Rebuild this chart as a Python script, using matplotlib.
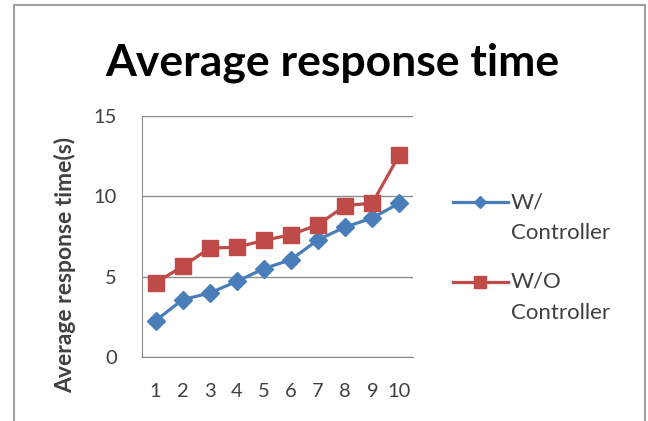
import matplotlib

matplotlib.use("Agg")
import matplotlib.pyplot as plt
from matplotlib.lines import Line2D
from matplotlib.patches import Rectangle

plt.rcParams["font.family"] = ["Lato", "DejaVu Sans"]

runs = list(range(1, 11))
with_ctrl = [2.26, 3.57, 3.98, 4.71, 5.50, 6.06, 7.30, 8.09, 8.65, 9.58]
without_ctrl = [4.61, 5.64, 6.78, 6.83, 7.26, 7.61, 8.24, 9.42, 9.58, 12.59]
yticks = [0, 5, 10, 15]

C_BLUE, C_RED, C_GRID, C_TXT = "#4A7EBB", "#BE4B48", "#8C8C8C", "#404040"
W, H = 648, 421

fig = plt.figure(figsize=(6.48, 4.21), dpi=100)
fig.patch.set_facecolor("white")
# outer chart frame (runs off the bottom of the image)
fig.add_artist(Rectangle((14 / W, -0.05), (645 - 14) / W, 1.05 - 5 / H,
                         transform=fig.transFigure, fill=False,
                         edgecolor="#A0A0A0", lw=1.5))

ax = fig.add_axes([142 / W, 1 - 357 / H, 271 / W, 241 / H])
ax.plot(runs, with_ctrl, "-D", color=C_BLUE, lw=2.3, ms=9, zorder=3)
ax.plot(runs, without_ctrl, "-s", color=C_RED, lw=2.3, ms=11, zorder=3)

ax.set_xlim(0.5, 10.5)
ax.set_ylim(0, 15)
ax.set_xticks(runs)
ax.set_yticks(yticks)
ax.grid(axis="y", color=C_GRID, lw=1)
ax.set_axisbelow(True)
for s in ("top", "right"):
    ax.spines[s].set_visible(False)
for s in ("left", "bottom"):
    ax.spines[s].set_color(C_GRID)
ax.tick_params(length=0, labelsize=14.5, labelcolor=C_TXT)
ax.tick_params(axis="y", pad=18)
ax.tick_params(axis="x", pad=19)

fig.text(332 / W, 1 - 63 / H, "Average response time", ha="center",
         va="center", fontsize=32, fontweight="bold", color="black")
fig.text(65 / W, 1 - 265 / H, "Average response time(s)", rotation=90,
         ha="center", va="center", fontsize=16.5, fontweight="bold",
         color=C_TXT)

# legend drawn like the spreadsheet one: handle beside the first text line
for y, color, marker, ms, lab in ((202, C_BLUE, "D", 6, "W/"),
                                  (282, C_RED, "s", 8, "W/O")):
    fig.add_artist(Line2D([453 / W, 508 / W], [1 - y / H] * 2,
                          transform=fig.transFigure, color=color, lw=2.3))
    fig.add_artist(Line2D([480 / W], [1 - y / H], transform=fig.transFigure,
                          color=color, marker=marker, ms=ms))
    fig.text(511 / W, 1 - y / H, lab, ha="left", va="center", fontsize=16,
             color=C_TXT)
    fig.text(511 / W, 1 - (y + 31) / H, "Controller", ha="left",
             va="center", fontsize=16, color=C_TXT)

fig.savefig("out.png", dpi=100)
